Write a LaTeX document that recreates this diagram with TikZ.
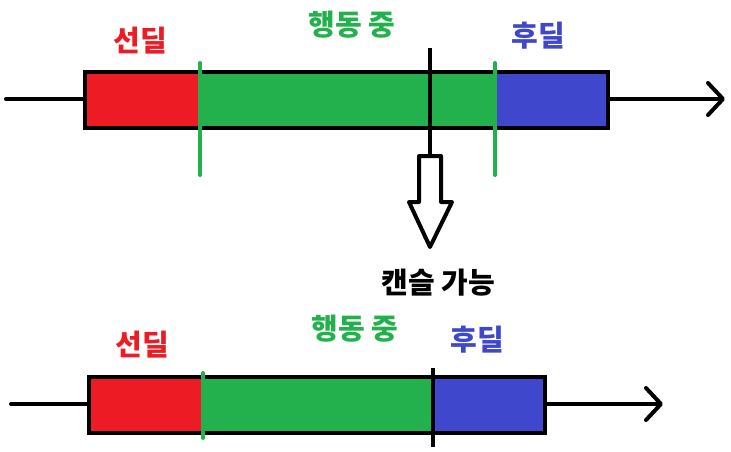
\documentclass[tikz,border=0pt]{standalone}
\usepackage{fontspec}
\newfontfamily\krfont{Noto Sans CJK KR}
\usetikzlibrary{arrows.meta}
\definecolor{pred}{HTML}{ED1C24}
\definecolor{pgreen}{HTML}{22B14C}
\definecolor{pblue}{HTML}{3F48CC}
\tikzset{
  lbl/.style={font=\krfont\bfseries\fontsize{29}{29}\selectfont, inner sep=0pt},
  seg/.style={draw=none, inner sep=0pt, minimum height=56pt, anchor=north west},
  frame/.style={draw=black, line width=4pt},
  axis/.style={draw=black, line width=4pt, line cap=round, -{Straight Barb[length=15pt,width=32pt,line cap=round,line join=round]}},
  gmark/.style={draw=pgreen, line width=4pt, line cap=round},
  kmark/.style={draw=black, line width=3.5pt},
}
\begin{document}
\begin{tikzpicture}[x=1pt,y=-1pt]
\useasboundingbox (0,0) rectangle (731,452);
% ---------- top ----------
\coordinate (ta0) at (6,99);
\coordinate (ta1) at (725,99);
\draw[axis] (ta0) -- (ta1);
\node[seg, fill=pred, minimum width=115pt] (r1) at (85,72) {};
\node[seg, fill=pgreen, minimum width=297pt] (g1) at (200,72) {};
\node[seg, fill=pblue, minimum width=111pt] (b1) at (497,72) {};
\draw[frame] (r1.north west) rectangle (b1.south east);
\coordinate (gl1a) at (200,63); \coordinate (gl1b) at (200,175);
\coordinate (gl2a) at (495,63); \coordinate (gl2b) at (495,175);
\draw[gmark] (gl1a) -- (gl1b);
\draw[gmark] (gl2a) -- (gl2b);
\coordinate (kt) at (430,48);
\coordinate (ak) at (430,156);
\draw[kmark] (kt) -- (ak);
\draw[draw=black, line width=4pt, line join=round]
  (419,156) -- (441,156) -- (441,202) -- (452,202) -- (430,247) -- (409,202) -- (419,202) -- cycle;
\node[lbl, text=pred] (t1) at (140,41) {선딜};
\node[lbl, text=pgreen] (t2) at (352,25) {행동 중};
\node[lbl, text=pblue] (t3) at (538,36) {후딜};
\node[lbl, text=black] (cn) at (438,283) {캔슬 가능};
% ---------- bottom ----------
\coordinate (ba0) at (11,404);
\coordinate (ba1) at (663,404);
\draw[axis] (ba0) -- (ba1);
\node[seg, fill=pred, minimum width=115pt] (r2) at (89,377) {};
\node[seg, fill=pgreen, minimum width=230pt] (g2) at (203,377) {};
\node[seg, fill=pblue, minimum width=112pt] (b2) at (433,377) {};
\draw[frame] (r2.north west) rectangle (b2.south east);
\coordinate (gl3a) at (203,373); \coordinate (gl3b) at (203,438);
\draw[gmark] (gl3a) -- (gl3b);
\coordinate (kl2a) at (433,368); \coordinate (kl2b) at (433,447);
\draw[kmark] (kl2a) -- (kl2b);
\node[lbl, text=pred] (s1) at (142,345) {선딜};
\node[lbl, text=pgreen] (s2) at (355,329) {행동 중};
\node[lbl, text=pblue] (s3) at (477,340) {후딜};
\end{tikzpicture}
\end{document}
